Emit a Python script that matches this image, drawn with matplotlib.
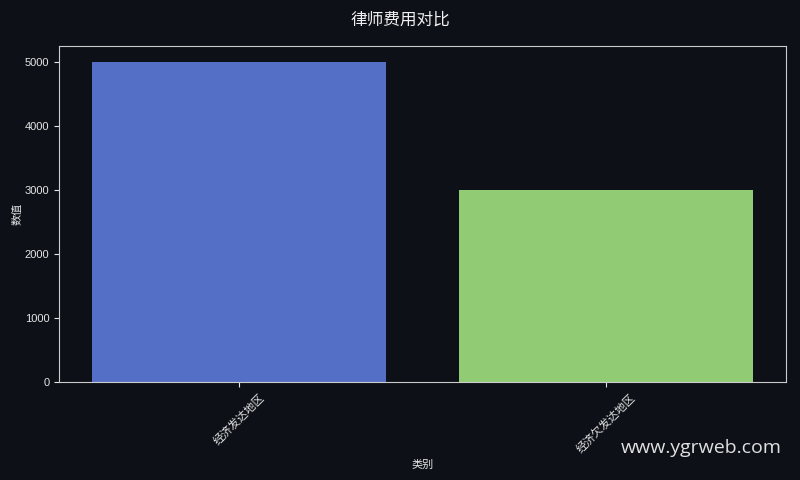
import matplotlib
matplotlib.use("Agg")
import matplotlib.pyplot as plt

categories = ["经济发达地区", "经济欠发达地区"]
values = [5000, 3000]
colors = ["#5470c6", "#91cc75"]

plt.rcParams['font.family'] = ['Liberation Sans', 'Noto Sans CJK SC', 'DejaVu Sans']
bg = "#0d1017"
fig = plt.figure(figsize=(8, 4.8), dpi=100, facecolor=bg)
ax = fig.add_axes([0.074, 0.204, 0.9085, 0.7])
ax.set_facecolor(bg)
ax.bar(range(len(categories)), values, width=0.8, color=colors)
ax.set_xticks(range(len(categories)))
ax.set_xticklabels(categories, rotation=45, fontsize=8, color="#e6e6e6")
ax.tick_params(axis='y', labelsize=8, colors="#e6e6e6")
ax.tick_params(axis='x', colors="#e6e6e6")
for s in ax.spines.values():
    s.set_color("#cccccc")
ax.set_xlabel("类别", fontsize=8, color="#e6e6e6")
ax.set_ylabel("数值", fontsize=8, color="#e6e6e6", labelpad=1.5)
fig.suptitle("律师费用对比", fontsize=12, color="#f0f0f0", y=0.975)
fig.text(0.977, 0.067, "www.ygrweb.com", fontsize=14, color="#e0e0e0",
         ha="right", va="center", family=["Open Sans", "DejaVu Sans"])
fig.savefig("out.png", facecolor=bg)
